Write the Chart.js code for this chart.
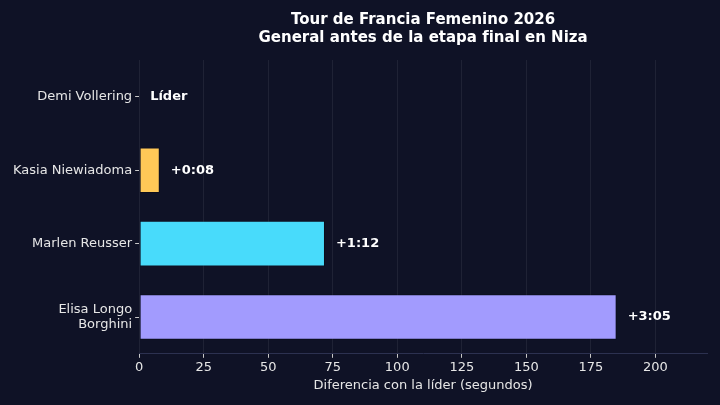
<!DOCTYPE html>
<html lang="es">
<head>
    <meta charset="UTF-8">
    <title>Tour de Francia Femenino 2026</title>
    <script src="https://cdn.jsdelivr.net/npm/chart.js"></script>
    <style>
        html, body { margin: 0; padding: 0; background: #0f1226; }
        #wrap { width: 720px; height: 405px; }
    </style>
</head>
<body>
    <div id="wrap"><canvas id="gapChart" width="720" height="405"></canvas></div>

    <script>
        // riders, gap to the leader in seconds, and the text shown next to each bar
        const riders = ['Demi Vollering', 'Kasia Niewiadoma', 'Marlen Reusser', ['Elisa Longo', 'Borghini']];
        const gapSeconds = [0, 8, 72, 185];
        const gapLabels = ['Líder', '+0:08', '+1:12', '+3:05'];
        const barColors = ['#ffc857', '#ffc857', '#48dbfb', '#a29bfe'];
        const xTicks = [0, 25, 50, 75, 100, 125, 150, 175, 200];

        const titleLines = ['Tour de Francia Femenino 2026', 'General antes de la etapa final en Niza'];
        const fontFamily = "'DejaVu Sans', sans-serif";

        // title centred over the plot area, like the original
        const titlePlugin = {
            id: 'plotTitle',
            afterDraw(chart) {
                const ctx = chart.ctx;
                const area = chart.chartArea;
                const cx = (area.left + area.right) / 2;
                ctx.save();
                ctx.fillStyle = '#ffffff';
                ctx.font = 'bold 15px ' + fontFamily;
                ctx.textAlign = 'center';
                ctx.textBaseline = 'middle';
                ctx.fillText(titleLines[0], cx, 20);
                ctx.fillText(titleLines[1], cx, 38);
                ctx.restore();
            }
        };

        // value text at the end of each bar
        const valuePlugin = {
            id: 'barValues',
            afterDatasetsDraw(chart) {
                const ctx = chart.ctx;
                const meta = chart.getDatasetMeta(0);
                const xScale = chart.scales.x;
                ctx.save();
                ctx.fillStyle = '#ffffff';
                ctx.font = 'bold 13px ' + fontFamily;
                ctx.textAlign = 'left';
                ctx.textBaseline = 'middle';
                meta.data.forEach((bar, i) => {
                    const x = xScale.getPixelForValue(gapSeconds[i]) + 11;
                    ctx.fillText(gapLabels[i], x, bar.y);
                });
                ctx.restore();
            }
        };

        const ctx = document.getElementById('gapChart').getContext('2d');
        new Chart(ctx, {
            type: 'bar',
            data: {
                labels: riders,
                datasets: [{
                    data: gapSeconds,
                    backgroundColor: barColors,
                    borderColor: 'rgba(0,0,0,0.25)',
                    borderWidth: 1,
                    borderSkipped: false,
                    barPercentage: 0.62,
                    categoryPercentage: 1
                }]
            },
            options: {
                indexAxis: 'y',
                responsive: false,
                animation: false,
                layout: { padding: { top: 60, left: 10, right: 13, bottom: 12 } },
                plugins: {
                    legend: { display: false },
                    tooltip: { enabled: false },
                    title: { display: false }
                },
                scales: {
                    x: {
                        min: 0,
                        max: 220,
                        afterBuildTicks(scale) {
                            scale.ticks = xTicks.map(v => ({ value: v }));
                        },
                        ticks: {
                            color: '#e6e6e6',
                            font: { family: fontFamily, size: 13 },
                            padding: 2
                        },
                        grid: {
                            color: 'rgba(255,255,255,0.07)',
                            tickColor: '#c8c8c8',
                            tickLength: 4
                        },
                        border: { color: '#2c3150' },
                        title: {
                            display: true,
                            text: 'Diferencia con la líder (segundos)',
                            color: '#e6e6e6',
                            font: { family: fontFamily, size: 13 },
                            padding: { top: 0, bottom: 0 }
                        }
                    },
                    y: {
                        offset: true,
                        ticks: {
                            color: '#e6e6e6',
                            font: { family: fontFamily, size: 13 },
                            padding: 3
                        },
                        grid: {
                            offset: false,
                            drawOnChartArea: false,
                            tickColor: '#c8c8c8',
                            tickLength: 4
                        },
                        border: { display: false }
                    }
                }
            },
            plugins: [titlePlugin, valuePlugin]
        });
    </script>
</body>
</html>
